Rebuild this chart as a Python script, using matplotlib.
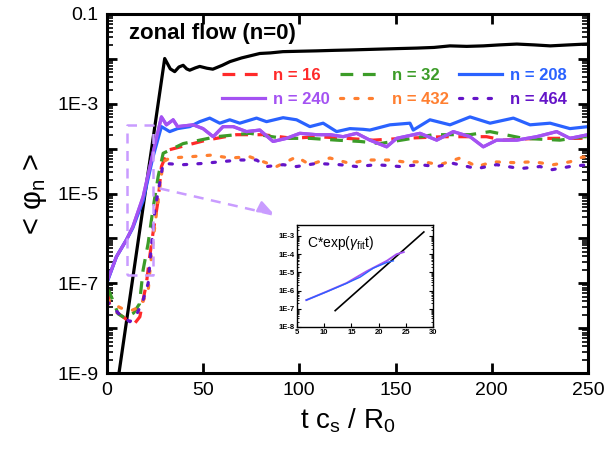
import numpy as np
import matplotlib.pyplot as plt
from matplotlib.ticker import LogLocator, FixedLocator, FixedFormatter, NullFormatter

plt.rcParams['font.family'] = ['Liberation Sans', 'DejaVu Sans']
plt.rcParams['mathtext.fontset'] = 'custom'
plt.rcParams['mathtext.rm'] = 'Liberation Sans'
plt.rcParams['mathtext.it'] = 'Liberation Sans:italic'

# ---- data (t in units of R0/cs, values of <phi_n>) ----
t_zf = [5, 30.1, 33, 35.3, 37.5, 39.7, 41.5, 43.1, 46, 48.3, 52, 55.1, 60, 64, 70, 79.5, 85, 91.5,
        100, 109, 118, 126.3, 135, 143.6, 152, 161, 170, 178.3, 187, 195.6, 204, 213, 222, 230.4, 240, 249]
phi_zf = [4.0e-10, 1.02e-2, 6.0e-3, 5.2e-3, 6.6e-3, 7.2e-3, 6.0e-3, 5.6e-3, 6.3e-3, 6.8e-3, 6.2e-3, 5.9e-3,
          7.2e-3, 8.7e-3, 1.05e-2, 1.32e-2, 1.36e-2, 1.45e-2, 1.48e-2, 1.51e-2, 1.55e-2, 1.58e-2, 1.62e-2,
          1.66e-2, 1.70e-2, 1.74e-2, 1.80e-2, 1.95e-2, 1.90e-2, 1.95e-2, 2.05e-2, 2.14e-2, 2.05e-2,
          1.95e-2, 2.05e-2, 2.14e-2]

t_16 = [0, 0.4, 1.5, 5, 10, 14.6, 17.2, 18.9, 20.6, 22.3, 24, 26.7, 28.4, 31.9, 40, 51.8, 67.4, 81.2,
        96.8, 109, 124.6, 138.4, 154, 174.8, 197.3, 206, 223.3, 246, 250]
phi_16 = [1.0e-8, 7.9e-8, 3.3e-8, 2.3e-8, 1.6e-8, 1.3e-8, 1.8e-8, 4.3e-8, 1.0e-7, 3.9e-7, 1.3e-6, 7.2e-6,
          4.0e-5, 9.3e-5, 1.15e-4, 1.55e-4, 2.05e-4, 2.05e-4, 1.7e-4, 1.85e-4, 1.7e-4, 1.55e-4, 1.7e-4,
          1.85e-4, 1.85e-4, 1.55e-4, 1.7e-4, 1.7e-4, 1.75e-4]

t_32 = [0, 1.5, 5.9, 9.4, 14, 17, 18.9, 21.5, 24, 26.7, 29.3, 39.7, 57, 74.3, 91.6, 105.5, 119.4, 131.5,
        141.9, 155, 169.6, 188.7, 199.1, 216.4, 235.4, 247.6, 250]
phi_32 = [7.9e-8, 6.3e-8, 2.1e-8, 1.7e-8, 2.2e-8, 3.5e-8, 2.0e-7, 7.8e-7, 4.5e-6, 2.4e-5, 7.9e-5, 1.3e-4,
          1.85e-4, 2.2e-4, 1.7e-4, 1.7e-4, 1.55e-4, 1.45e-4, 1.3e-4, 1.6e-4, 2.05e-4, 2.05e-4, 2.4e-4,
          1.7e-4, 1.55e-4, 1.85e-4, 1.85e-4]

t_208 = [0, 5, 10.2, 13.5, 18.9, 24, 28.4, 32.7, 36.8, 43.1, 48.3, 53.5, 58.7, 63.9, 69.1, 77.8, 83,
         91.6, 98.6, 105.5, 112.4, 119.4, 126.3, 133.2, 136.7, 147.1, 157.5, 159.2, 167.9, 178.3, 188.7,
         199.1, 211.2, 219.9, 230.3, 240.6, 250]
phi_208 = [1.0e-7, 3.9e-7, 9.3e-7, 1.7e-6, 7.0e-6, 6.5e-5, 3.1e-4, 2.4e-4, 2.8e-4, 3.1e-4, 4.0e-4,
           4.8e-4, 3.7e-4, 4.4e-4, 3.7e-4, 4.8e-4, 4.0e-4, 4.9e-4, 4.4e-4, 3.1e-4, 3.7e-4, 2.4e-4,
           2.8e-4, 2.7e-4, 2.6e-4, 3.4e-4, 3.7e-4, 2.6e-4, 4.4e-4, 3.4e-4, 5.1e-4, 3.7e-4, 4.8e-4,
           3.4e-4, 3.7e-4, 2.8e-4, 3.1e-4]

t_240 = [0, 5, 10.2, 13.5, 18.9, 24, 28.4, 31, 34.5, 36.8, 44.9, 50, 55.3, 60.4, 65.7, 72.6, 79.5, 86.4,
         93.4, 100.3, 109, 116, 122.8, 129.8, 136.7, 145.4, 150.6, 162.7, 171.4, 180, 188.7, 195.6,
         202.5, 213, 223.3, 233.7, 240.6, 250]
phi_240 = [1.05e-7, 3.9e-7, 9.3e-7, 1.8e-6, 8.5e-6, 7.9e-5, 5.1e-4, 3.4e-4, 4.4e-4, 3.1e-4, 3.4e-4,
           2.8e-4, 1.85e-4, 3.1e-4, 3.1e-4, 2.4e-4, 2.6e-4, 1.45e-4, 1.7e-4, 2.2e-4, 2.05e-4, 2.05e-4,
           1.85e-4, 2.2e-4, 1.55e-4, 1.1e-4, 1.7e-4, 2.2e-4, 1.55e-4, 2.4e-4, 1.85e-4, 1.1e-4,
           1.55e-4, 1.55e-4, 1.85e-4, 2.4e-4, 1.7e-4, 2.05e-4]

t_432 = [0, 3, 7.6, 13, 17.2, 21.5, 22.3, 24.5, 26.7, 29.3, 32.7, 43.1, 54.4, 63.9, 74.3, 88.2, 98.6,
         105.5, 115.9, 126.3, 135, 147.1, 154, 164.4, 173.1, 183.5, 192.2, 200.8, 211.2, 221.6, 232,
         240.6, 247.6, 250]
phi_432 = [4.5e-8, 3.5e-8, 2.8e-8, 2.5e-8, 3.0e-8, 6.6e-8, 1.7e-7, 1.3e-6, 7.2e-6, 5.1e-5, 6.2e-5,
           6.6e-5, 7.2e-5, 6.2e-5, 6.6e-5, 4.0e-5, 6.6e-5, 4.4e-5, 6.2e-5, 4.7e-5, 5.6e-5, 5.6e-5,
           5.1e-5, 5.1e-5, 4.4e-5, 6.2e-5, 4.0e-5, 5.1e-5, 4.9e-5, 5.1e-5, 4.4e-5, 5.1e-5, 6.6e-5, 6.0e-5]

t_464 = [0, 1.5, 6.8, 12, 15.5, 18.9, 21.5, 22.3, 25, 27.5, 29.3, 39.7, 50.1, 58.7, 69.1, 77.8, 83, 91.6,
         98.6, 109, 121, 129.8, 140.2, 152.3, 162.7, 171.4, 180, 192.2, 202.5, 214.7, 225, 231.1, 240.6, 250]
phi_464 = [4.0e-8, 3.5e-8, 2.0e-8, 1.4e-8, 2.0e-8, 4.3e-8, 1.0e-7, 2.6e-7, 4.3e-6, 1.7e-5, 4.7e-5,
           4.4e-5, 4.7e-5, 5.1e-5, 5.6e-5, 5.6e-5, 4.0e-5, 4.4e-5, 4.0e-5, 4.7e-5, 4.4e-5, 4.0e-5,
           4.4e-5, 4.0e-5, 4.4e-5, 4.0e-5, 4.7e-5, 3.6e-5, 4.4e-5, 3.6e-5, 4.0e-5, 3.4e-5, 4.0e-5, 4.4e-5]

# inset: exponential fits during the linear phase
t_fit_zf = [12, 28.3]
phi_fit_zf = [7.9e-8, 1.66e-3]
t_fit_240 = [6.7, 10.4, 14.1, 17.8, 21.5, 23.3, 24.6]
phi_fit_240 = [3.0e-7, 8.7e-7, 2.6e-6, 1.15e-5, 4.3e-5, 1.0e-4, 1.3e-4]
t_fit_208 = [6.7, 10.4, 14.1, 16.6, 19, 21.5, 22.7]
phi_fit_208 = [3.0e-7, 8.5e-7, 2.5e-6, 5.5e-6, 1.7e-5, 3.5e-5, 4.3e-5]

# zoom box and arrow pointing to the inset
box_t = [10.5, 24.0]
box_phi = [1.5e-7, 3.4e-4]
arrow_t = [27.5, 88]
arrow_phi = [1.3e-5, 3.3e-6]

yticks_main = [1e-9, 1e-8, 1e-7, 1e-6, 1e-5, 1e-4, 1e-3, 1e-2, 1e-1]
ytick_labels = ['1E-9', '', '1E-7', '', '1E-5', '', '1E-3', '', '0.1']

c_red, c_green, c_blue = '#ff2a2a', '#3c9c28', '#2a62ff'
c_purple, c_orange, c_indigo = '#a452f2', '#ff7f30', '#6414c8'
c_box = '#c99cff'

fig = plt.figure(figsize=(6.1, 4.59), dpi=100)
ax = fig.add_axes([0.175, 0.187, 0.789, 0.7825])

lw = 2.3
ax.plot(t_zf, phi_zf, color='black', lw=lw)
l16, = ax.plot(t_16, phi_16, color=c_red, lw=lw, dashes=(4, 3))
l32, = ax.plot(t_32, phi_32, color=c_green, lw=lw, dashes=(4, 3))
l240, = ax.plot(t_240, phi_240, color=c_purple, lw=lw)
l208, = ax.plot(t_208, phi_208, color=c_blue, lw=lw)
l432, = ax.plot(t_432, phi_432, color=c_orange, lw=lw, dashes=(1, 3.5), dash_capstyle='round')
l464, = ax.plot(t_464, phi_464, color=c_indigo, lw=lw, dashes=(1, 3.5), dash_capstyle='round')
ax.plot(t_240, phi_240, color=c_purple, lw=lw)

# dashed zoom box
bx = [box_t[0], box_t[1], box_t[1], box_t[0], box_t[0]]
by = [box_phi[0], box_phi[0], box_phi[1], box_phi[1], box_phi[0]]
ax.plot(bx, by, color=c_box, lw=1.8, dashes=(4, 3))
ax.plot(arrow_t, arrow_phi, color=c_box, lw=1.8, dashes=(4, 3))
ax.annotate('', xy=(arrow_t[1], arrow_phi[1]), xytext=(arrow_t[1] - 6, arrow_phi[1] * 1.35),
            arrowprops=dict(arrowstyle='-|>,head_length=0.9,head_width=0.35', color=c_box, lw=1.8))

ax.set_yscale('log')
ax.set_xlim(0, 250)
ax.set_ylim(1e-9, 0.1)
ax.set_xticks([0, 50, 100, 150, 200, 250])
ax.yaxis.set_major_locator(FixedLocator(yticks_main))
ax.yaxis.set_major_formatter(FixedFormatter(ytick_labels))
ax.yaxis.set_minor_locator(LogLocator(base=10, subs=np.arange(2, 10), numticks=20))
ax.yaxis.set_minor_formatter(NullFormatter())
ax.tick_params(which='major', direction='in', length=7, width=2, top=True, right=True, labelsize=14, pad=6)
ax.tick_params(which='minor', direction='in', length=4, width=1.2, right=True)
for sp in ax.spines.values():
    sp.set_linewidth(2.2)

ax.set_xlabel('t c$_\\mathrm{s}$ / R$_\\mathrm{0}$', fontsize=20, labelpad=6)
ax.set_ylabel('< φ$_\\mathrm{n}$ >', fontsize=21, labelpad=6)

ax.text(0.047, 0.947, 'zonal flow (n=0)', transform=ax.transAxes, fontsize=16, fontweight='bold',
        va='center')

handles = [l16, l240, l32, l432, l208, l464]
labels = ['n = 16', 'n = 240', 'n = 32', 'n = 432', 'n = 208', 'n = 464']
leg = ax.legend(handles, labels, ncol=3, loc='upper left', bbox_to_anchor=(0.225, 0.868), frameon=False,
                prop={'weight': 'bold', 'size': 12}, handlelength=2.6, handletextpad=0.5,
                columnspacing=0.6, labelspacing=0.55, borderaxespad=0, labelcolor='linecolor')

# inset
axi = fig.add_axes([0.487, 0.2876, 0.223, 0.2222])
axi.plot(t_fit_zf, phi_fit_zf, color='black', lw=1.2)
axi.plot(t_fit_240, phi_fit_240, color=c_purple, lw=1.4)
axi.plot(t_fit_208, phi_fit_208, color=c_blue, lw=1.0)
axi.set_yscale('log')
axi.set_xlim(5, 30)
axi.set_ylim(1e-8, 4e-3)
axi.set_xticks([5, 10, 15, 20, 25, 30])
axi.yaxis.set_major_locator(FixedLocator([1e-8, 1e-7, 1e-6, 1e-5, 1e-4, 1e-3]))
axi.yaxis.set_major_formatter(FixedFormatter(['1E-8', '1E-7', '1E-6', '1E-5', '1E-4', '1E-3']))
axi.yaxis.set_minor_locator(LogLocator(base=10, subs=np.arange(2, 10), numticks=20))
axi.yaxis.set_minor_formatter(NullFormatter())
axi.tick_params(which='major', direction='in', length=3, width=0.8, right=True, labelsize=5.5, pad=1.5)
axi.tick_params(which='minor', direction='in', length=1.5, width=0.6, right=True)
for lab in axi.get_xticklabels() + axi.get_yticklabels():
    lab.set_fontweight('bold')
for sp in axi.spines.values():
    sp.set_linewidth(1.0)
axi.text(0.07, 0.82, 'C*exp($\\gamma_\\mathrm{fit}$t)', transform=axi.transAxes, fontsize=10, va='center')

fig.savefig('out.png', dpi=100)
